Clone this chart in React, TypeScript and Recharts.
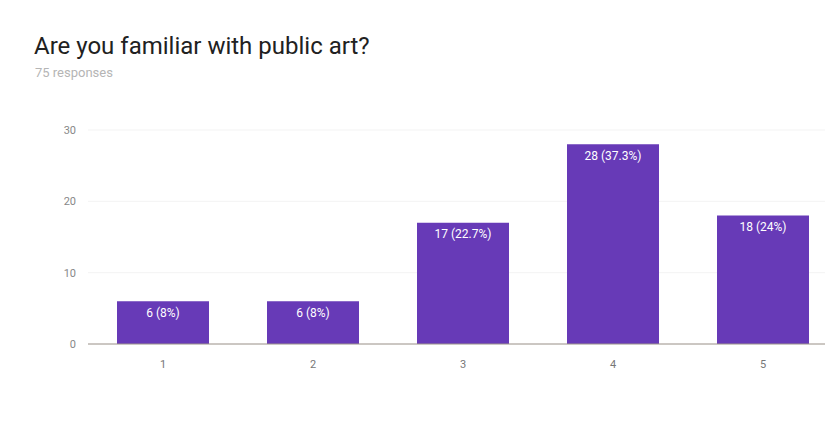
import { BarChart, Bar, XAxis, YAxis, CartesianGrid, LabelList } from 'recharts';

const categories = ['1', '2', '3', '4', '5'];
const counts = [6, 6, 17, 28, 18];
const percents = ['8%', '8%', '22.7%', '37.3%', '24%'];
const yTicks = [0, 10, 20, 30];

const chartData = categories.map((c, i) => ({
  name: c,
  count: counts[i],
  label: `${counts[i]} (${percents[i]})`,
}));

export default function App() {
  return (
    <div
      style={{
        position: 'fixed',
        left: 0,
        top: 0,
        width: 825,
        height: 425,
        overflow: 'hidden',
        background: '#fff',
        fontFamily: 'Roboto, sans-serif',
      }}
    >
      <div style={{ position: 'absolute', left: 34, top: 32, fontSize: 24, color: '#212121', whiteSpace: 'nowrap' }}>
        Are you familiar with public art?
      </div>
      <div style={{ position: 'absolute', left: 35, top: 65, fontSize: 13, color: '#b5b5b5' }}>75 responses</div>
      <BarChart
        width={850}
        height={425}
        data={chartData}
        margin={{ top: 130, right: 12, bottom: 51, left: 0 }}
      >
        <CartesianGrid vertical={false} stroke="#f3f3f3" />
        <XAxis
          dataKey="name"
          axisLine={{ stroke: '#9e958c' }}
          tickLine={false}
          tickMargin={10}
          tick={{ fill: '#777', fontSize: 11 }}
        />
        <YAxis
          width={88}
          domain={[0, 30]}
          ticks={yTicks}
          axisLine={false}
          tickLine={false}
          tickMargin={6}
          tick={{ fill: '#888', fontSize: 11 }}
        />
        <Bar dataKey="count" fill="#673ab7" barSize={92} isAnimationActive={false}>
          <LabelList dataKey="label" position="insideTop" fill="#fff" fontSize={12} offset={7} />
        </Bar>
      </BarChart>
    </div>
  );
}
